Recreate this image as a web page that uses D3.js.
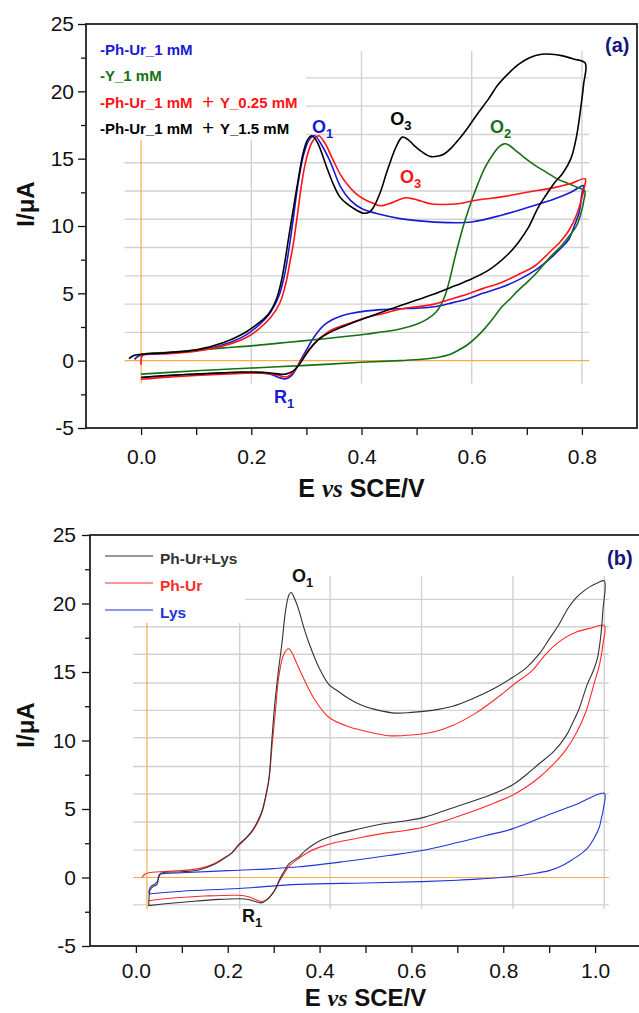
<!DOCTYPE html>
<html><head><meta charset="utf-8">
<script src="https://cdn.jsdelivr.net/npm/d3@7"></script>
<style>body{margin:0;background:#fff} text{font-family:"Liberation Sans",Arial,sans-serif}</style>
</head><body><svg id="c" width="639" height="1013"></svg>
<script>
// ---------------- DATA ----------------
// Panel (a): cyclic voltammograms, [E (V vs SCE), I (µA)]
const phUrA = [[-0.012,0.1],[-0.005,0.35],[0.0,0.42],[0.05,0.55],[0.1,0.75],[0.15,1.2],[0.19,1.9],[0.215,2.7],[0.235,3.6],[0.25,4.8],[0.26,6.3],[0.268,8.2],[0.276,10.5],[0.285,13.2],[0.295,15.3],[0.305,16.4],[0.315,16.7],[0.325,16.2],[0.343,14.8],[0.362,12.9],[0.38,11.9],[0.4,11.3],[0.435,10.85],[0.47,10.55],[0.5,10.4],[0.557,10.25],[0.6,10.3],[0.654,10.8],[0.7,11.35],[0.75,12.0],[0.78,12.5],[0.803,13.0],
  [0.8,12.4],[0.795,11.0],[0.788,10.2],[0.776,9.0],[0.763,8.4],[0.74,7.5],[0.715,6.7],[0.685,6.0],[0.654,5.45],[0.62,5.0],[0.593,4.6],[0.56,4.25],[0.532,4.0],[0.5,3.9],[0.471,3.86],[0.44,3.8],[0.41,3.7],[0.38,3.5],[0.362,3.3],[0.345,3.0],[0.331,2.6],[0.32,2.1],[0.313,1.7],[0.3,0.8],[0.289,0.0],[0.28,-0.7],[0.272,-1.15],[0.262,-1.35],[0.25,-1.25],[0.235,-1.0],[0.21,-0.9],[0.18,-0.88],[0.15,-0.92],[0.1,-1.0],[0.05,-1.1],[0.0,-1.25]];
const yA = [[-0.002,0.3],[0.0,0.45],[0.05,0.62],[0.1,0.78],[0.15,0.95],[0.2,1.1],[0.25,1.3],[0.289,1.45],[0.35,1.7],[0.41,1.98],[0.47,2.35],[0.5,2.7],[0.52,3.1],[0.535,3.6],[0.545,4.2],[0.553,5.0],[0.56,6.0],[0.568,7.4],[0.578,9.0],[0.587,10.3],[0.6,11.9],[0.612,13.2],[0.625,14.4],[0.64,15.4],[0.65,15.9],[0.659,16.1],[0.668,16.0],[0.68,15.6],[0.695,15.1],[0.715,14.5],[0.735,14.0],[0.755,13.5],[0.775,13.15],[0.79,12.9],[0.805,12.6],
  [0.803,11.8],[0.798,10.9],[0.79,10.0],[0.776,9.2],[0.76,8.4],[0.745,7.8],[0.73,7.1],[0.715,6.4],[0.7,5.8],[0.684,5.2],[0.67,4.6],[0.654,3.96],[0.64,3.2],[0.624,2.4],[0.61,1.8],[0.593,1.2],[0.575,0.75],[0.56,0.45],[0.54,0.25],[0.51,0.1],[0.47,0.0],[0.4,-0.12],[0.3,-0.35],[0.2,-0.55],[0.1,-0.75],[0.0,-1.0]];
const phUrY025A = [[0.0,-0.3],[0.003,0.4],[0.05,0.52],[0.1,0.7],[0.15,1.1],[0.19,1.7],[0.215,2.4],[0.235,3.2],[0.252,4.3],[0.263,5.8],[0.27,7.3],[0.276,8.6],[0.283,10.6],[0.292,13.3],[0.3,15.0],[0.31,16.2],[0.322,16.7],[0.333,16.2],[0.349,14.85],[0.362,13.8],[0.374,13.1],[0.39,12.4],[0.404,12.0],[0.42,11.7],[0.435,11.5],[0.45,11.65],[0.465,11.9],[0.48,12.1],[0.495,12.0],[0.508,11.85],[0.525,11.65],[0.545,11.6],[0.575,11.65],[0.6,11.85],[0.623,12.0],[0.66,12.2],[0.7,12.5],[0.75,12.85],[0.78,13.15],[0.806,13.5],
  [0.804,12.8],[0.8,12.1],[0.79,10.8],[0.776,9.65],[0.76,8.8],[0.745,8.2],[0.715,7.05],[0.685,6.4],[0.654,5.8],[0.62,5.35],[0.593,4.95],[0.56,4.55],[0.532,4.2],[0.5,4.0],[0.471,3.84],[0.44,3.5],[0.41,3.22],[0.38,2.8],[0.349,2.35],[0.33,1.85],[0.319,1.48],[0.305,0.85],[0.295,0.3],[0.285,-0.35],[0.276,-0.85],[0.265,-1.2],[0.255,-1.15],[0.24,-1.0],[0.21,-0.92],[0.18,-0.95],[0.15,-1.0],[0.1,-1.1],[0.05,-1.22],[0.0,-1.38]];
const phUrY15A = [[-0.022,0.15],[-0.015,0.35],[-0.005,0.45],[0.0,0.48],[0.05,0.6],[0.1,0.8],[0.15,1.35],[0.185,2.0],[0.21,2.7],[0.23,3.4],[0.245,4.5],[0.255,6.0],[0.262,7.6],[0.268,9.2],[0.276,11.2],[0.285,13.4],[0.294,15.4],[0.302,16.4],[0.31,16.7],[0.32,16.2],[0.337,14.35],[0.35,13.0],[0.362,12.1],[0.386,11.3],[0.404,10.95],[0.415,11.05],[0.422,11.4],[0.435,12.6],[0.445,13.9],[0.453,14.85],[0.463,15.9],[0.474,16.6],[0.485,16.4],[0.495,16.0],[0.51,15.5],[0.526,15.15],[0.54,15.2],[0.55,15.35],[0.563,15.8],[0.578,16.5],[0.593,17.3],[0.61,18.3],[0.63,19.4],[0.648,20.5],[0.666,21.3],[0.685,22.0],[0.705,22.5],[0.727,22.75],[0.745,22.75],[0.763,22.65],[0.785,22.4],[0.806,22.1],
  [0.803,20.5],[0.798,18.8],[0.79,16.6],[0.78,15.0],[0.765,13.9],[0.75,13.2],[0.735,12.3],[0.721,11.4],[0.703,9.9],[0.685,8.8],[0.666,7.9],[0.63,6.7],[0.593,5.95],[0.56,5.4],[0.532,4.95],[0.5,4.5],[0.471,4.1],[0.44,3.65],[0.41,3.2],[0.38,2.75],[0.349,2.23],[0.33,1.8],[0.319,1.45],[0.305,0.8],[0.295,0.2],[0.285,-0.4],[0.275,-0.8],[0.262,-1.0],[0.252,-1.0],[0.235,-0.92],[0.21,-0.85],[0.18,-0.85],[0.15,-0.9],[0.1,-1.0],[0.05,-1.1],[0.0,-1.25]];

// Panel (b)
const phUrLysB = [[0.028,-2.1],[0.029,-1.3],[0.031,-0.9],[0.038,-0.65],[0.046,-0.5],[0.05,0.15],[0.055,0.32],[0.1,0.42],[0.137,0.55],[0.17,0.95],[0.195,1.45],[0.209,1.8],[0.224,2.4],[0.24,2.9],[0.253,3.4],[0.265,4.1],[0.275,4.9],[0.283,6.0],[0.29,7.3],[0.296,10.0],[0.302,12.5],[0.31,15.0],[0.318,17.1],[0.326,19.5],[0.333,20.6],[0.338,20.8],[0.345,20.4],[0.355,19.5],[0.366,18.2],[0.377,17.1],[0.399,15.3],[0.42,14.1],[0.44,13.6],[0.464,13.05],[0.493,12.55],[0.529,12.2],[0.566,12.0],[0.6,12.05],[0.645,12.2],[0.69,12.5],[0.733,13.05],[0.78,13.8],[0.82,14.6],[0.85,15.3],[0.878,16.3],[0.9,17.4],[0.922,18.5],[0.94,19.6],[0.958,20.4],[0.975,20.9],[0.99,21.25],[1.005,21.5],[1.02,21.65],
  [1.017,19.5],[1.012,17.5],[1.005,16.0],[0.995,15.0],[0.983,14.1],[0.965,12.3],[0.95,11.2],[0.936,10.3],[0.91,9.2],[0.878,8.3],[0.85,7.5],[0.82,6.75],[0.77,6.0],[0.718,5.4],[0.67,4.85],[0.623,4.35],[0.58,4.1],[0.536,3.9],[0.48,3.5],[0.428,3.05],[0.405,2.75],[0.391,2.5],[0.37,2.0],[0.355,1.5],[0.333,1.0],[0.322,0.4],[0.312,-0.2],[0.305,-0.75],[0.297,-1.2],[0.285,-1.65],[0.272,-1.85],[0.26,-1.75],[0.245,-1.6],[0.224,-1.55],[0.18,-1.6],[0.12,-1.75],[0.07,-1.9],[0.028,-2.05]];
const phUrB = [[0.013,0.0],[0.02,0.25],[0.028,0.35],[0.07,0.45],[0.137,0.65],[0.17,1.0],[0.195,1.5],[0.209,1.8],[0.224,2.35],[0.24,2.85],[0.253,3.35],[0.265,4.0],[0.275,4.8],[0.283,5.9],[0.29,7.2],[0.297,9.8],[0.304,12.2],[0.311,14.6],[0.322,16.3],[0.333,16.7],[0.34,16.4],[0.348,15.8],[0.37,14.2],[0.391,12.9],[0.42,11.7],[0.464,11.0],[0.51,10.6],[0.551,10.35],[0.6,10.4],[0.645,10.6],[0.69,11.1],[0.74,12.0],[0.79,13.2],[0.827,14.2],[0.863,15.1],[0.885,16.0],[0.907,16.8],[0.93,17.4],[0.958,17.9],[0.99,18.2],[1.02,18.4],
  [1.017,17.0],[1.01,15.6],[1.0,14.4],[0.99,13.2],[0.98,12.1],[0.96,10.6],[0.936,9.3],[0.91,8.3],[0.878,7.3],[0.85,6.6],[0.82,6.0],[0.77,5.3],[0.718,4.65],[0.67,4.1],[0.623,3.65],[0.58,3.4],[0.536,3.2],[0.48,2.85],[0.428,2.5],[0.399,2.2],[0.375,1.85],[0.355,1.4],[0.333,0.8],[0.322,0.25],[0.312,-0.3],[0.305,-0.8],[0.297,-1.2],[0.285,-1.6],[0.275,-1.75],[0.26,-1.6],[0.245,-1.4],[0.224,-1.3],[0.15,-1.35],[0.08,-1.5],[0.028,-1.7]];
const lysB = [[0.028,-1.15],[0.03,-0.8],[0.035,-0.6],[0.042,-0.45],[0.048,-0.2],[0.052,0.2],[0.06,0.28],[0.1,0.35],[0.2,0.5],[0.3,0.65],[0.355,0.78],[0.45,1.15],[0.55,1.6],[0.623,1.97],[0.7,2.55],[0.76,3.05],[0.82,3.55],[0.9,4.6],[0.96,5.35],[1.02,6.15],
  [1.018,5.0],[1.013,4.2],[1.009,3.65],[0.995,2.7],[0.985,2.2],[0.972,1.8],[0.95,1.3],[0.93,0.9],[0.9,0.5],[0.86,0.25],[0.82,0.07],[0.75,-0.1],[0.7,-0.2],[0.623,-0.3],[0.5,-0.4],[0.355,-0.5],[0.224,-0.8],[0.1,-1.0],[0.028,-1.2]];

// axis ticks
const yTicks = [-5,0,5,10,15,20,25];
const yMinor = [-2.5,2.5,7.5,12.5,17.5,22.5];
const xTicksA = [0.0,0.2,0.4,0.6,0.8];
const xMinorA = [0.1,0.3,0.5,0.7];
const xTicksB = [0.0,0.2,0.4,0.6,0.8,1.0];
const xMinorB = [0.1,0.3,0.5,0.7,0.9];
// inset grid values
const gridXA = [0.2,0.4,0.6,0.8];
const gridYA = [2.1,4.2,6.3,8.4,10.5,12.6,14.7,16.8,18.9,21.0];
const gridXB = [0.226,0.423,0.622,0.821,1.02];
const gridYB = [-2.0,2.0,4.05,6.1,8.1,10.2,12.2,14.2,16.3,18.3,20.3];

// legend labels
const legendA = [
  {a:"-Ph-Ur_1 mM", c:"#1a1ad6"},
  {a:"-Y_1 mM", c:"#167016"},
  {a:"-Ph-Ur_1 mM", b:"Y_0.25 mM", c:"#ff1414"},
  {a:"-Ph-Ur_1 mM", b:"Y_1.5 mM", c:"#000000"}];
const legendB = [
  {t:"Ph-Ur+Lys", c:"#333333"},
  {t:"Ph-Ur", c:"#ff2a2a"},
  {t:"Lys", c:"#2233dd"}];

// ---------------- DRAW ----------------
const svg = d3.select("#c");

function drawPanel(p){
  const x = d3.scaleLinear().domain(p.xDomain).range(p.xRange);
  const y = d3.scaleLinear().domain([-5,25]).range(p.yRange);
  const g = svg.append("g");
  const [ex0,ex1] = p.gridE, [iy0,iy1] = p.gridI;
  // gray grid
  g.selectAll(null).data(p.gridX).join("line")
    .attr("x1",d=>x(d)).attr("x2",d=>x(d)).attr("y1",y(iy0)).attr("y2",y(iy1))
    .attr("stroke","#d2d2d2").attr("stroke-width",1.4);
  g.selectAll(null).data(p.gridY).join("line")
    .attr("y1",d=>y(d)).attr("y2",d=>y(d)).attr("x1",x(ex0)).attr("x2",x(ex1))
    .attr("stroke","#d2d2d2").attr("stroke-width",1.4);
  // orange zero lines
  g.append("line").attr("x1",x(ex0)).attr("x2",x(ex1)).attr("y1",y(0)).attr("y2",y(0))
    .attr("stroke","#ffa94d").attr("stroke-width",1.2);
  g.append("line").attr("x1",x(p.originE)).attr("x2",x(p.originE)).attr("y1",y(iy0)).attr("y2",y(iy1))
    .attr("stroke","#ffa94d").attr("stroke-width",1.2);
  // legend background
  g.append("rect").attr("x",p.xRange[0]+1).attr("y",p.yRange[1]+1)
    .attr("width",p.legW).attr("height",p.legH).attr("fill","#fff");
  // curves
  const line = d3.line().x(d=>x(d[0])).y(d=>y(d[1])).curve(d3.curveCatmullRom.alpha(0.5));
  p.series.forEach(s=>{
    g.append("path").attr("d",line(s.data)).attr("fill","none")
      .attr("stroke",s.color).attr("stroke-width",s.w).attr("stroke-linejoin","round");
  });
  // axes
  const xa = g.append("g").attr("transform",`translate(0,${p.yRange[0]})`)
    .call(d3.axisBottom(x).tickValues(p.xTicks).tickFormat(d3.format(".1f")).tickSize(7).tickSizeOuter(0).tickPadding(p.xPad));
  const xm = g.append("g").attr("transform",`translate(0,${p.yRange[0]})`)
    .call(d3.axisBottom(x).tickValues(p.xMinor).tickFormat("").tickSize(7).tickSizeOuter(0));
  const ya = g.append("g").attr("transform",`translate(${p.xRange[0]},0)`)
    .call(d3.axisLeft(y).tickValues(yTicks).tickFormat(d=>String(d)).tickSize(8).tickSizeOuter(0).tickPadding(p.yPad));
  const ym = g.append("g").attr("transform",`translate(${p.xRange[0]},0)`)
    .call(d3.axisLeft(y).tickValues(yMinor).tickFormat("").tickSize(5).tickSizeOuter(0));
  [xa,xm,ya,ym].forEach(a=>{a.select(".domain").remove(); a.selectAll("line").attr("stroke","#111").attr("stroke-width",1.3);});
  [xa,ya].forEach(a=>a.selectAll("text").attr("font-size",21).attr("fill","#111")
     .style("font-family","'Liberation Sans',Arial,sans-serif"));
  // frame
  g.append("rect").attr("x",p.xRange[0]).attr("y",p.yRange[1])
    .attr("width",p.xRange[1]-p.xRange[0]).attr("height",p.yRange[0]-p.yRange[1])
    .attr("fill","none").attr("stroke","#222").attr("stroke-width",1.8);
  // axis titles
  const xt = g.append("text").attr("x",(p.xRange[0]+p.xRange[1])/2 + p.xtOff).attr("y",p.xtY)
    .attr("text-anchor","middle").attr("font-size",p.xtSize).attr("font-weight","bold").attr("fill","#111");
  xt.append("tspan").text("E ");
  xt.append("tspan").text("vs").style("font-family","'Liberation Serif','Times New Roman',serif").attr("font-style","italic");
  xt.append("tspan").text(" SCE/V");
  g.append("text").attr("transform",`translate(${p.ytX},${p.ytY}) rotate(-90)`)
    .attr("text-anchor","middle").attr("font-size",24).attr("font-weight","bold").attr("fill","#111").text("I/μA");
  // peak labels
  p.labels.forEach(l=>{
    const t = g.append("text").attr("x",x(l.E)).attr("y",y(l.I)).attr("font-weight","bold")
      .attr("font-size",18).attr("fill",l.c);
    t.append("tspan").text(l.t);
    t.append("tspan").text(l.s).attr("font-size",13).attr("dy",5);
  });
  // panel tag
  g.append("text").attr("x",p.tagX).attr("y",p.tagY).attr("font-size",20).attr("font-weight","bold")
    .attr("fill","#16167a").text(p.tag);
  return {g,x,y};
}

// Panel (a)
const A = drawPanel({
  xDomain:[-0.1,0.9], xRange:[86,637], yRange:[428,24],
  gridX:gridXA, gridY:gridYA, gridE:[-0.03,0.813], gridI:[-1.7,23.0], originE:0,
  legW:219, legH:115,
  series:[
    {data:phUrA,color:"#1a1ad6",w:1.6},
    {data:yA,color:"#167016",w:1.6},
    {data:phUrY025A,color:"#ff1414",w:1.6},
    {data:phUrY15A,color:"#000",w:1.6}],
  xTicks:xTicksA, xMinor:xMinorA, xPad:14, yPad:4, xtOff:0, xtY:497, xtSize:25, ytX:34, ytY:204,
  labels:[
    {t:"O",s:"1",E:0.31,I:16.9,c:"#1a1ad6"},
    {t:"O",s:"3",E:0.452,I:17.5,c:"#000"},
    {t:"O",s:"3",E:0.47,I:13.2,c:"#ff1414"},
    {t:"O",s:"2",E:0.633,I:16.9,c:"#167016"},
    {t:"R",s:"1",E:0.241,I:-3.15,c:"#1a1ad6"}],
  tag:"(a)", tagX:605, tagY:52
});
// legend (a)
legendA.forEach((d,i)=>{
  const t = A.g.append("text").attr("x",100).attr("y",55+i*26.3).attr("font-size",15).attr("font-weight","bold").attr("fill",d.c);
  t.append("tspan").text(d.a);
  if(d.b){
    A.g.append("text").attr("x",202).attr("y",56+i*26.3).attr("font-size",21).attr("fill",d.c).text("+");
    A.g.append("text").attr("x",220).attr("y",55+i*26.3).attr("font-size",15).attr("font-weight","bold").attr("fill",d.c).text(d.b);
  }
});

// Panel (b)
const B = drawPanel({
  xDomain:[-0.1,1.1], xRange:[90,641], yRange:[946,535],
  gridX:gridXB, gridY:gridYB, gridE:[-0.006,1.03], gridI:[-2.3,22.0], originE:0.024,
  legW:154, legH:87,
  series:[
    {data:lysB,color:"#2233dd",w:1.1},
    {data:phUrB,color:"#ff2a2a",w:1.1},
    {data:phUrLysB,color:"#333",w:1.1}],
  xTicks:xTicksB, xMinor:xMinorB, xPad:10, yPad:6, xtOff:0, xtY:1006, xtSize:24, ytX:34, ytY:725,
  labels:[
    {t:"O",s:"1",E:0.34,I:21.6,c:"#111"},
    {t:"R",s:"1",E:0.231,I:-3.25,c:"#111"}],
  tag:"(b)", tagX:607, tagY:565
});
legendB.forEach((d,i)=>{
  B.g.append("line").attr("x1",105).attr("x2",153).attr("y1",556+i*27).attr("y2",556+i*27)
    .attr("stroke",d.c).attr("stroke-width",1.2);
  B.g.append("text").attr("x",160).attr("y",564+i*27).attr("font-size",15.5).attr("font-weight","bold")
    .attr("fill",d.c).text(d.t);
});
</script></body></html>
